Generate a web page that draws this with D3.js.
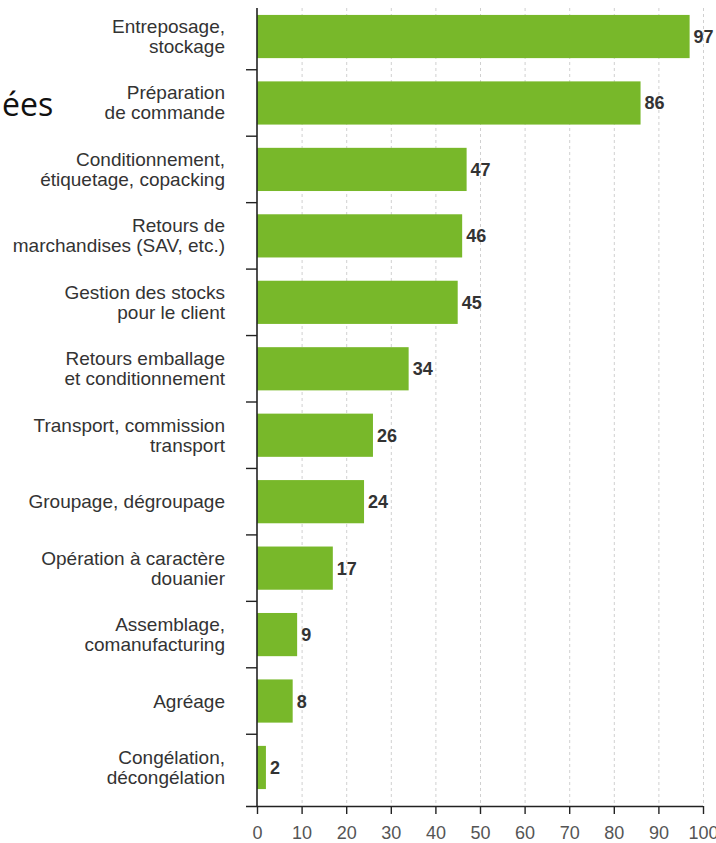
<!DOCTYPE html>
<html>
<head>
<meta charset="utf-8">
<script src="https://cdn.jsdelivr.net/npm/d3@7"></script>
<style>
	body { margin: 0; background: #fff; }
	svg { display: block; }
	.catLabel { font-family: "Liberation Sans", Arial, sans-serif; font-size: 19px; fill: #333; }
	.valLabel { font-family: "Liberation Sans", Arial, sans-serif; font-size: 18px; font-weight: bold; fill: #333; }
	.xAxis text { font-family: "Liberation Sans", Arial, sans-serif; font-size: 18px; fill: #555; }
</style>
</head>
<body>
<div id="chart"></div>
<script>

// data
const categories = [
	"Entreposage,\nstockage",
	"Préparation\nde commande",
	"Conditionnement,\nétiquetage, copacking",
	"Retours de\nmarchandises (SAV, etc.)",
	"Gestion des stocks\npour le client",
	"Retours emballage\net conditionnement",
	"Transport, commission\ntransport",
	"Groupage, dégroupage",
	"Opération à caractère\ndouanier",
	"Assemblage,\ncomanufacturing",
	"Agréage",
	"Congélation,\ndécongélation"
];
const values = [97, 86, 47, 46, 45, 34, 26, 24, 17, 9, 8, 2];
const xTicks = [0, 10, 20, 30, 40, 50, 60, 70, 80, 90, 100];
const sideText = "ées";

const data = categories.map((c, i) => ({cat: c, value: values[i]}));

// setup
const width = 716;
const height = 843;
const x0 = 257, x1 = 703;
const yTop = 3.3, yBottom = 800.7, axisY = 806;

const svg = d3.select("#chart").append("svg")
	.attr("width", width)
	.attr("height", height);

// scales
const xScale = d3.scaleLinear()
	.domain([0, 100])
	.range([x0, x1]);

const yScale = d3.scaleBand()
	.domain(categories)
	.range([yTop, yBottom])
	.paddingInner(0.35)
	.paddingOuter(0.175);

const step = yScale.step();

// grid
svg.append("g")
	.selectAll("line")
	.data(xTicks.filter(d => d > 0))
	.join("line")
	.attr("x1", d => xScale(d) + 0.5)
	.attr("x2", d => xScale(d) + 0.5)
	.attr("y1", 8)
	.attr("y2", axisY)
	.attr("stroke", "#d0d0d0")
	.attr("stroke-width", 1)
	.attr("stroke-dasharray", "3,3");

// bars
svg.append("g")
	.selectAll("rect")
	.data(data)
	.join("rect")
	.attr("x", xScale(0))
	.attr("y", d => yScale(d.cat))
	.attr("width", d => xScale(d.value) - xScale(0))
	.attr("height", yScale.bandwidth())
	.attr("fill", "#78b82a");

// value labels
svg.append("g")
	.selectAll("text")
	.data(data)
	.join("text")
	.attr("class", "valLabel")
	.attr("x", d => xScale(d.value) + 4)
	.attr("y", d => yScale(d.cat) + yScale.bandwidth() / 2)
	.attr("dy", "0.36em")
	.text(d => d.value);

// category labels
const labels = svg.append("g")
	.selectAll("text")
	.data(data)
	.join("text")
	.attr("class", "catLabel")
	.attr("text-anchor", "end")
	.attr("y", d => yScale(d.cat) + yScale.bandwidth() / 2);

labels.each(function(d) {
	const lines = d.cat.split("\n");
	const t = d3.select(this);
	const offset = -(lines.length - 1) * 10;
	lines.forEach((l, i) => {
		t.append("tspan")
			.attr("x", 225)
			.attr("dy", i === 0 ? (offset + 6.5) + "px" : "20px")
			.text(l);
	});
});

// y axis line and ticks between bands
svg.append("line")
	.attr("x1", x0).attr("x2", x0)
	.attr("y1", 8).attr("y2", axisY)
	.attr("stroke", "#222")
	.attr("stroke-width", 1.6);

svg.append("g")
	.selectAll("line")
	.data(categories.slice(1))
	.join("line")
	.attr("x1", x0 - 11)
	.attr("x2", x0)
	.attr("y1", d => yScale(d) - step * 0.35 / 2)
	.attr("y2", d => yScale(d) - step * 0.35 / 2)
	.attr("stroke", "#222")
	.attr("stroke-width", 1.4);

// x axis
const xAxis = svg.append("g")
	.attr("class", "xAxis")
	.attr("transform", `translate(0, ${axisY})`)
	.call(d3.axisBottom(xScale)
		.tickValues(xTicks)
		.tickSize(8)
		.tickPadding(12)
		.tickSizeOuter(0)
	);

xAxis.select(".domain")
	.attr("d", `M${x0 - 11},0.5H${x1}`)
	.attr("stroke", "#222")
	.attr("stroke-width", 1.6);

xAxis.selectAll(".tick line")
	.attr("stroke", "#222")
	.attr("stroke-width", 1.4);

// stray text at left
svg.append("text")
	.attr("x", 2)
	.attr("y", 116)
	.attr("font-family", "'Open Sans', 'Noto Sans', sans-serif")
	.attr("font-size", 32)
	.attr("fill", "#111")
	.text(sideText);

</script>
</body>
</html>
